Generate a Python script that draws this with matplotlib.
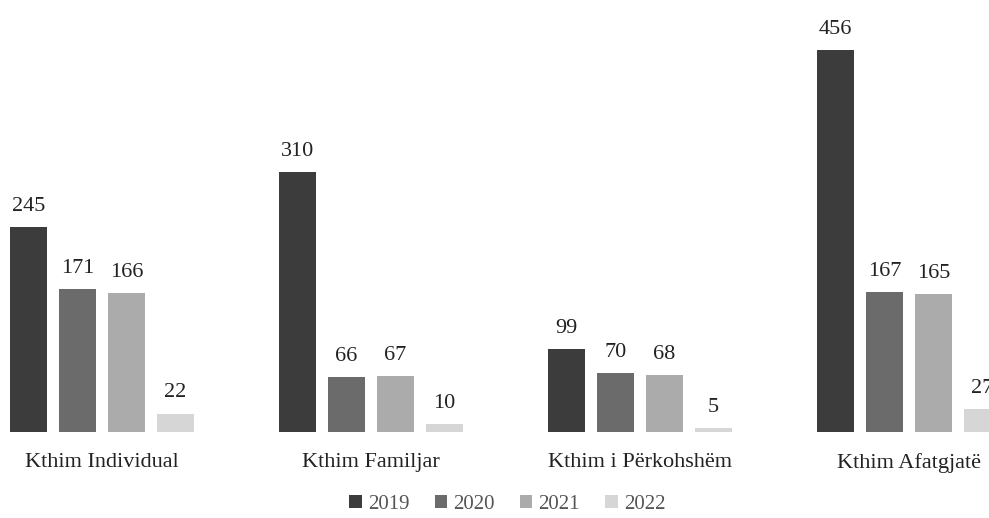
import numpy as np
import matplotlib.pyplot as plt

categories = ['Kthim Individual', 'Kthim Familjar', 'Kthim i Përkohshëm', 'Kthim Afatgjatë']
years = ['2019', '2020', '2021', '2022']
values = {
    '2019': [245, 310, 99, 456],
    '2020': [171, 66, 70, 167],
    '2021': [166, 67, 68, 165],
    '2022': [22, 10, 5, 27],
}
colors = ['#3c3c3c', '#6b6b6b', '#ababab', '#d6d6d6']

plt.rcParams['font.family'] = ['Liberation Serif', 'DejaVu Serif']

fig = plt.figure(figsize=(9.89, 5.18), dpi=100)
ax = fig.add_axes([0, 86/518, 1, 432/518])

x = np.arange(len(categories))
step = 0.182
width = 0.138

for i, yr in enumerate(years):
    pos = x + (i - 1.5)*step
    bars = ax.bar(pos, values[yr], width, color=colors[i], label=yr)
    for b, v in zip(bars, values[yr]):
        ax.annotate(str(v), (b.get_x() + b.get_width()/2, v), xytext=(0, 8),
                    textcoords='offset points', ha='center', va='bottom',
                    fontsize=16, color='#222222', annotation_clip=False)

ax.set_xlim(-102/269, (989-102)/269)
ax.set_ylim(0, 432/0.838)
ax.set_xticks(x)
ax.set_xticklabels(categories, fontsize=16, color='#222222')
ax.tick_params(axis='x', length=0, pad=15)
ax.set_yticks([])
for s in ax.spines.values():
    s.set_visible(False)

fig.legend(loc='center', bbox_to_anchor=(0.513, 0.026), ncol=4, frameon=False,
           fontsize=15, handlelength=0.6, handleheight=0.6, handletextpad=0.3,
           columnspacing=1.2, labelcolor='#555555', borderpad=0.1)

fig.savefig('out.png', dpi=100)
